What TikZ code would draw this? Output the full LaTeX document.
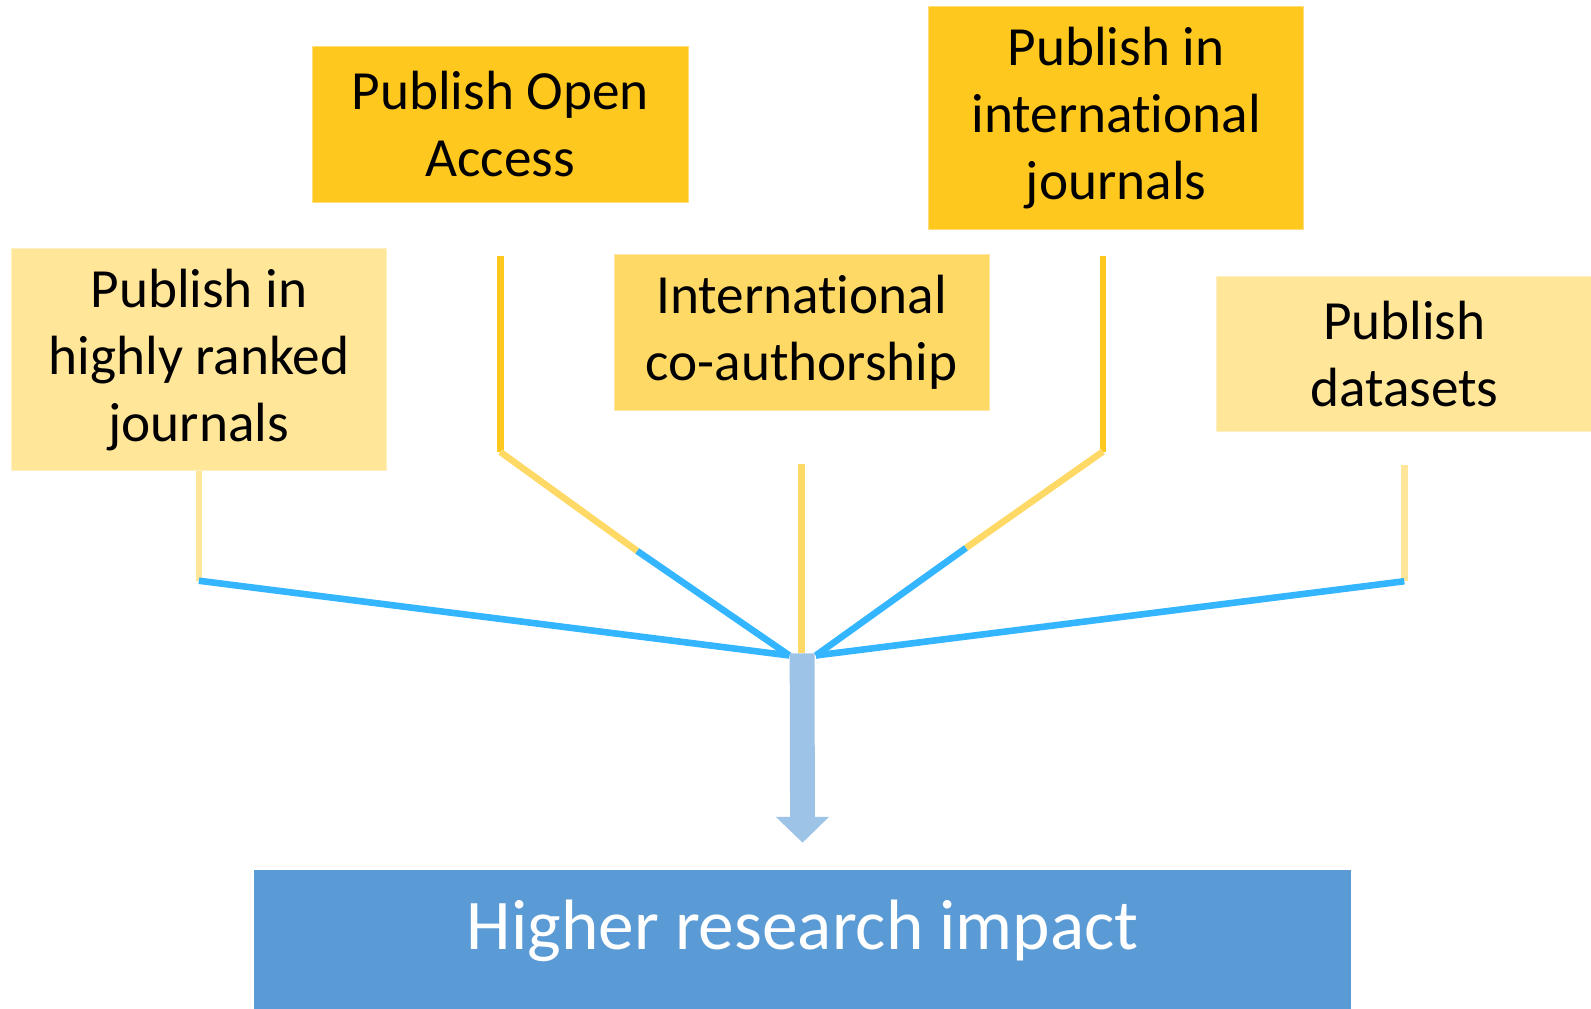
\documentclass[tikz,border=0pt]{standalone}
\usepackage{fontspec}
\setmainfont{Carlito}[Ligatures={NoCommon,NoContextual}]
\usetikzlibrary{positioning}
\usetikzlibrary{arrows.meta}

\definecolor{GoldBox}{HTML}{FFC81E}
\definecolor{MidGold}{HTML}{FFD966}
\definecolor{PaleGold}{HTML}{FFE699}
\definecolor{SkyLine}{HTML}{33B5FF}
\definecolor{ArrowBlue}{HTML}{9DC3E6}
\definecolor{ImpactBlue}{HTML}{5B9BD5}

\begin{document}
\begin{tikzpicture}[x=0.02cm, y=-0.02cm,
    goal/.style={inner sep=0pt, minimum width=7.4cm, minimum height=3.06cm, align=center,
                 font=\fontsize{31}{37.6}\selectfont},
    link/.style={line width=0.13cm}]

    \useasboundingbox (0,0) rectangle (1568,994);

    \node (HighlyRanked) [goal, fill=PaleGold, draw=PaleGold!60!white, minimum height=4.38cm] at (196,354.5) {Publish in\\highly ranked\\journals};
    \node (OpenAccess) [goal, fill=GoldBox, draw=GoldBox!60!white] at (493,122.5) {Publish Open\\Access};
    \node (CoAuthor) [goal, fill=MidGold, draw=MidGold!60!white] at (790,327.5) {International\\co-authorship};
    \node (Intl) [goal, fill=GoldBox, draw=GoldBox!60!white, minimum height=4.4cm] at (1100,116) {Publish in\\international\\journals};
    \node (Datasets) [goal, fill=PaleGold, draw=PaleGold!60!white] at (1384,349) {Publish\\datasets};

    \node (Impact) [anchor=north, inner sep=0pt, minimum width=21.64cm, text height=1.56cm, text depth=1.8cm,
                    fill=ImpactBlue, text=white, font=\fontsize{40}{48}\selectfont] at (791,857) {Higher research impact};

    \coordinate (HubL) at (778,646);
    \coordinate (HubR) at (804,646);
    \coordinate (Hub) at (790.5,644);
    \coordinate (OpenMid) at (628,543);
    \coordinate (IntlTop) at (1087,252);
    \coordinate (IntlBend) at (1087,445);
    \coordinate (IntlMid) at (952,540);

    \draw[link, PaleGold] (HighlyRanked.south) -- ++(0,108) coordinate (RankedBend);
    \draw[link, SkyLine] (RankedBend) -- (HubL);

    \draw[link, GoldBox, shorten <=1.06cm] (OpenAccess.south) -- ++(0,246) coordinate (OpenBend);
    \draw[link, MidGold] (OpenBend) -- (OpenMid);
    \draw[link, SkyLine] (OpenMid) -- (HubL);

    \draw[link, MidGold, shorten <=1.06cm] (CoAuthor.south) -- (CoAuthor.south |- Hub);

    \draw[link, GoldBox] (IntlTop) -- (IntlBend);
    \draw[link, MidGold] (IntlBend) -- (IntlMid);
    \draw[link, SkyLine] (IntlMid) -- (HubR);

    \draw[link, PaleGold, shorten <=0.64cm] (Datasets.south) -- ++(0,147) coordinate (DataBend);
    \draw[link, SkyLine] (DataBend) -- (HubR);

    \draw[ArrowBlue, line width=0.49cm, -{Triangle[width=1.02cm, length=0.51cm]}, shorten >=0.53cm] (Hub) -- (Impact.north);

\end{tikzpicture}
\end{document}
